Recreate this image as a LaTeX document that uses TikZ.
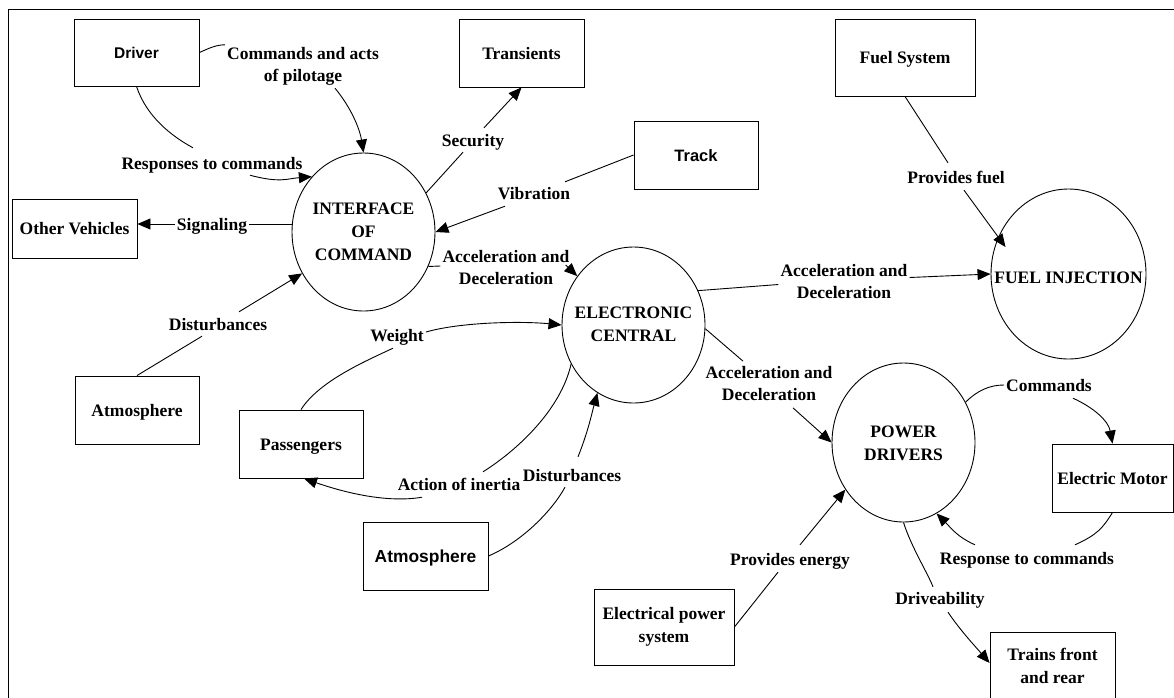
\documentclass[tikz,border=0pt]{standalone}
\usepackage{fontspec}
\setmainfont{Liberation Serif}
\newfontfamily\arialfont{Liberation Sans}
\usetikzlibrary{arrows.meta,shapes.geometric}

\begin{document}
\begin{tikzpicture}[x=1pt,y=-1pt,
  every node/.style={inner sep=2pt},
  lbl/.style={font=\fontsize{17.5}{22}\selectfont\bfseries, align=center},
  one/.style={text height=12pt, text depth=0pt},
  box/.style={draw, line width=0.9pt, inner sep=0pt, align=center,
    font=\fontsize{17.5}{23}\selectfont\bfseries},
  bubble/.style={draw, ellipse, line width=0.9pt, inner sep=0pt},
  ctext/.style={inner sep=0pt, align=center,
    font=\fontsize{17.5}{23}\selectfont\bfseries},
  link/.style={line width=0.9pt},
  arr/.style={link, -{Triangle[length=13pt,width=11pt]}},
  frame/.style={line width=1.7pt}
]
\useasboundingbox (0,0) rectangle (1174,697);
\clip (0,0) rectangle (1174,697);

% outer frame
\draw[frame] (8.5,710) -- (8.5,9.5) -- (1190,9.5);

% external entities
\node[box, one, minimum width=125pt, minimum height=67pt] (driver) at (136.5,52.5)
  {\arialfont\fontsize{15.5}{18}\selectfont Driver};
\node[box, one, minimum width=125pt, minimum height=59pt] (other) at (74.5,228.5) {Other Vehicles};
\node[box, one, minimum width=125pt, minimum height=68pt] (transients) at (521.5,53) {Transients};
\node[box, one, minimum width=124pt, minimum height=68pt] (track) at (696,155)
  {\arialfont\fontsize{16.5}{18}\selectfont Track};
\node[box, one, minimum width=140pt, minimum height=77pt] (fuelsys) at (905,57.5) {Fuel System};
\node[box, one, minimum width=124pt, minimum height=68pt] (atm1) at (137,410) {Atmosphere};
\node[box, one, minimum width=124pt, minimum height=68pt] (pass) at (301,444) {Passengers};
\node[box, one, minimum width=125pt, minimum height=68pt] (atm2) at (425.5,556)
  {\arialfont\fontsize{17.4}{20}\selectfont Atmosphere};
\node[box, minimum width=140pt, minimum height=76pt] (elec) at (664,627)
  {Electrical power\\system};
\node[box, one, minimum width=121pt, minimum height=68pt] (motor) at (1112.5,478) {Electric Motor};
\node[box, minimum width=125pt, minimum height=68pt] (trains) at (1052.5,666)
  {Trains front\\and rear};

% processes
\node[bubble, minimum width=143pt, minimum height=158pt] (ic) at (363.5,232) {};
\node[ctext] (icT) at (363.5,232) {INTERFACE\\OF\\COMMAND};
\node[bubble, minimum width=143pt, minimum height=156pt] (ec) at (633.5,325) {};
\node[ctext] (ecT) at (633.5,324) {ELECTRONIC\\CENTRAL};
\node[bubble, minimum width=143pt, minimum height=159pt] (pd) at (903.5,442.5) {};
\node[ctext] (pdT) at (903.5,443.5) {POWER\\DRIVERS};
\node[bubble, minimum width=155pt, minimum height=170pt] (fi) at (1068.5,274) {};
\node[ctext] (fiT) at (1068.5,278) {FUEL INJECTION};

% flow labels
\node[lbl] (lCmd) at (303,66) {Commands and acts\\of pilotage};
\node[lbl, one] (lResp) at (212,163) {Responses to commands};
\node[lbl, one] (lSig) at (212,224) {Signaling};
\node[lbl, one] (lSec) at (473,140) {Security};
\node[lbl, one] (lVib) at (534,193) {Vibration};
\node[lbl] (lAcc1) at (506,268) {Acceleration and\\Deceleration};
\node[lbl] (lAcc2) at (844,281.5) {Acceleration and\\Deceleration};
\node[lbl, one] (lFuel) at (956,177) {Provides fuel};
\node[lbl] (lAcc3) at (769,383.5) {Acceleration and\\Deceleration};
\node[lbl, one] (lWeight) at (397,335) {Weight};
\node[lbl, one] (lInertia) at (459,484) {Action of inertia};
\node[lbl, one] (lDist2) at (572,475) {Disturbances};
\node[lbl, one] (lDist1) at (218,324) {Disturbances};
\node[lbl, one] (lEnergy) at (790,559) {Provides energy};
\node[lbl, one] (lCmds) at (1049,385) {Commands};
\node[lbl, one] (lResp2) at (1027,558) {Response to commands};
\node[lbl, one] (lDrive) at (940,598) {Driveability};

% driver and interface of command
\draw[link] (driver.east) .. controls +(9,-4) and +(-9,0) .. (lCmd.north west);
\draw[arr] ([xshift=32pt,yshift=-1pt]lCmd.south) .. controls +(15,18) and +(-4,-25) .. (ic.north);
\draw[link] (driver.south) .. controls +(10,30) and +(-22,-12) .. ([xshift=-19pt,yshift=7pt]lResp.north);
\draw[arr] ([xshift=38pt,yshift=-4pt]lResp.south) .. controls +(30,8) and +(-25,2) .. (ic.133);

% signaling
\draw[link] (ic.west |- lSig.east) -- (lSig.east);
\draw[arr] (lSig.west) -- (lSig.west -| other.east);

% security
\draw[link] (ic.32) -- ([xshift=-10pt,yshift=-4pt]lSec.south);
\draw[arr] ([xshift=11pt,yshift=4pt]lSec.north) -- (transients.south);

% vibration
\draw[link] (track.west) -- ([xshift=31pt,yshift=3pt]lVib.north);
\draw[arr] ([xshift=-29pt,yshift=-5pt]lVib.south) -- (ic.east);

% interface -> electronic central
\draw[link] (ic.-28) -- ([yshift=2pt]lAcc1.west);
\draw[arr] ([xshift=-6pt,yshift=3pt]lAcc1.east) -- (ec.139);

% electronic central -> fuel injection
\draw[link] (ec.28) -- ([yshift=-3pt]lAcc2.west);
\draw[arr] ([yshift=4pt]lAcc2.east) -- (fi.west);

% fuel system
\draw[link] (fuelsys.south) -- ([xshift=-8pt,yshift=6pt]lFuel.north);
\draw[arr] ([xshift=8pt,yshift=-5pt]lFuel.south) -- ([xshift=-63pt,yshift=27pt]fi.center);

% electronic central -> power drivers
\draw[link] (ec.-3) -- ([xshift=-26pt,yshift=3pt]lAcc3.north);
\draw[arr] ([xshift=24pt,yshift=-5pt]lAcc3.south) -- (pd.west);

% passengers
\draw[link] (pass.north) .. controls +(18,-28) and +(-30,14) .. ([xshift=-4pt,yshift=-5pt]lWeight.south);
\draw[arr] ([yshift=3pt]lWeight.east) .. controls +(35,-10) and +(-40,-4) .. (ec.west);
\draw[link] (ec.212) .. controls +(-10,45) and +(35,-22) .. ([xshift=24pt,yshift=4pt]lInertia.north);
\draw[arr] ([xshift=-37pt,yshift=-5pt]lInertia.south) .. controls +(-35,6) and +(40,14) .. ([xshift=3pt]pass.south);

% atmosphere disturbances
\draw[link] (atm2.east) .. controls +(35,-15) and +(-12,22) .. ([xshift=-7pt,yshift=-4pt]lDist2.south);
\draw[arr] ([xshift=6pt,yshift=10pt]lDist2.north) .. controls +(10,-25) and +(-6,22) .. (ec.242);
\draw[link] (atm1.north) -- ([xshift=-16pt,yshift=-4pt]lDist1.south);
\draw[arr] ([xshift=21pt,yshift=4pt]lDist1.north) -- (ic.214);

% electrical power system
\draw[link] (elec.east) -- ([xshift=-12pt,yshift=-5pt]lEnergy.south);
\draw[arr] ([xshift=10pt,yshift=6pt]lEnergy.north) -- (pd.219);

% electric motor
\draw[link] (pd.33) .. controls +(12,-12) and +(-14,0) .. (lCmds.west);
\draw[arr] ([xshift=24pt,yshift=-5pt]lCmds.south) .. controls +(22,10) and +(-4,-22) .. (motor.north);
\draw[link] (motor.south) .. controls +(-10,16) and +(22,-10) .. ([xshift=48pt,yshift=5pt]lResp2.north);
\draw[arr] ([xshift=-52pt,yshift=5pt]lResp2.north) .. controls +(-18,-8) and +(14,14) .. (pd.-65);

% trains
\draw[link] (pd.south) .. controls +(8,25) and +(-6,-15) .. ([xshift=-7pt,yshift=3pt]lDrive.north);
\draw[arr] ([xshift=8pt,yshift=-6pt]lDrive.south) .. controls +(12,18) and +(-12,-14) .. ([yshift=3pt]trains.west);
\end{tikzpicture}
\end{document}
